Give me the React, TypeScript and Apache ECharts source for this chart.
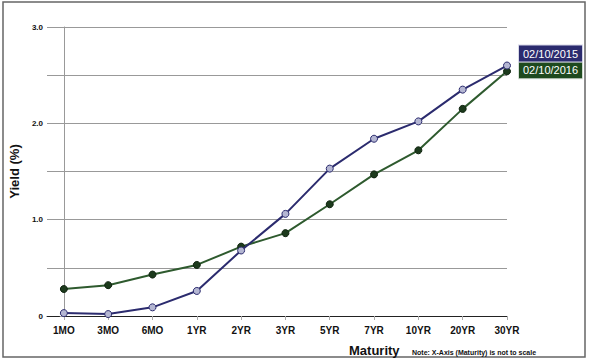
import React, { useEffect, useRef } from "react";
import * as echarts from "echarts";

const categories = ["1MO", "3MO", "6MO", "1YR", "2YR", "3YR", "5YR", "7YR", "10YR", "20YR", "30YR"];
const yields2015 = [0.03, 0.02, 0.09, 0.26, 0.68, 1.06, 1.53, 1.84, 2.02, 2.35, 2.6];
const yields2016 = [0.28, 0.32, 0.43, 0.53, 0.72, 0.86, 1.16, 1.47, 1.72, 2.15, 2.54];
const seriesNames = ["02/10/2015", "02/10/2016"];
const yTicks = [0, 0.5, 1, 1.5, 2, 2.5, 3];

export default function App() {
  const ref = useRef<HTMLDivElement>(null);
  useEffect(() => {
    if (!ref.current) return;
    const chart = echarts.init(ref.current, undefined, { renderer: "svg" });
    const font = "Liberation Sans, Arial, sans-serif";
    const idx = categories.map((_, i) => i);
    chart.setOption({
      animation: false,
      backgroundColor: "#ffffff",
      textStyle: { fontFamily: font },
      grid: { left: 43, right: 82, top: 27, bottom: 46 },
      xAxis: {
        type: "value",
        min: -0.38,
        max: categories.length - 1,
        axisLine: { show: true, lineStyle: { color: "#222", width: 1 } },
        axisTick: { show: true, length: 4, lineStyle: { color: "#aaa" }, customValues: idx },
        axisLabel: {
          customValues: idx,
          formatter: (v: number) => categories[Math.round(v)] ?? "",
          fontSize: 10,
          fontWeight: "bold",
          color: "#111",
          margin: 9,
          fontFamily: font,
        },
        splitLine: { show: false },
      },
      yAxis: {
        type: "value",
        min: yTicks[0],
        max: yTicks[yTicks.length - 1],
        interval: 0.5,
        name: "Yield (%)",
        nameLocation: "middle",
        nameGap: 23,
        nameTextStyle: { fontSize: 13, fontWeight: "bold", color: "#111", fontFamily: font },
        axisLine: { show: true, lineStyle: { color: "#999" } },
        axisTick: { show: true, length: 4, lineStyle: { color: "#999" } },
        axisLabel: {
          formatter: (v: number) => (v === 0 ? "0" : Number.isInteger(v) ? v.toFixed(1) : ""),
          fontSize: 8,
          fontWeight: "bold",
          color: "#111",
          margin: 4,
          fontFamily: font,
        },
        splitLine: { show: true, lineStyle: { color: "#999", width: 1 } },
      },
      series: [
        {
          name: seriesNames[0],
          type: "line",
          data: yields2015.map((v, i) => [i, v]),
          lineStyle: { color: "#2b2b6e", width: 2 },
          itemStyle: { color: "#b4b6d2", borderColor: "#2b2b6e", borderWidth: 1 },
          symbol: "circle",
          symbolSize: 7,
          z: 3,
          endLabel: {
            show: true,
            formatter: seriesNames[0],
            color: "#fff",
            fontSize: 11,
            fontFamily: font,
            backgroundColor: "#2b2b6e",
            borderColor: "#d8d8e8",
            borderWidth: 1,
            padding: [3, 4, 2, 4],
            distance: 12,
            offset: [0, -12],
          },
        },
        {
          name: seriesNames[1],
          type: "line",
          data: yields2016.map((v, i) => [i, v]),
          lineStyle: { color: "#2e5a2e", width: 2 },
          itemStyle: { color: "#1c3a1c", borderColor: "#0f230f", borderWidth: 1 },
          symbol: "circle",
          symbolSize: 7,
          z: 2,
          endLabel: {
            show: true,
            formatter: seriesNames[1],
            color: "#fff",
            fontSize: 11,
            fontFamily: font,
            backgroundColor: "#1e4a1e",
            borderColor: "#d8e0d8",
            borderWidth: 1,
            padding: [3, 4, 2, 4],
            distance: 12,
            offset: [0, -1],
          },
        },
      ],
      graphic: [
        {
          type: "rect",
          shape: { x: 3, y: 2, width: 582, height: 355 },
          style: { fill: "none", stroke: "#666", lineWidth: 1.5 },
          silent: true,
        },
        {
          type: "text",
          x: 349,
          y: 350,
          style: {
            text: "Maturity",
            font: `bold 13px ${font}`,
            fill: "#111",
            verticalAlign: "middle",
          },
        },
        {
          type: "text",
          x: 412,
          y: 352,
          style: {
            text: "Note: X-Axis (Maturity) is not to scale",
            font: `bold 7px ${font}`,
            fill: "#111",
            verticalAlign: "middle",
          },
        },
      ],
    });
    return () => chart.dispose();
  }, []);
  return (
    <div
      ref={ref}
      style={{ position: "absolute", left: 0, top: 0, width: 589, height: 362 }}
    />
  );
}
